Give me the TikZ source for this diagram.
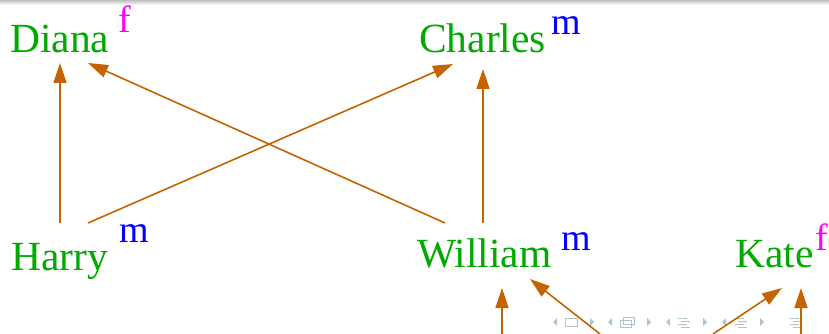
\documentclass[tikz,border=0pt]{standalone}
\usepackage{fontspec}
\setmainfont{Liberation Serif}
\usetikzlibrary{arrows.meta}
\definecolor{namegreen}{RGB}{0,170,0}
\definecolor{sexfc}{RGB}{255,0,255}
\definecolor{sexmc}{RGB}{0,0,255}
\definecolor{arr}{RGB}{196,100,0}
\definecolor{navc}{RGB}{176,196,204}
\begin{document}
\begin{tikzpicture}[x=1pt,y=-1pt,
  person/.style={anchor=base west,inner sep=0pt,text=namegreen,font=\fontsize{41.5}{41.5}\selectfont},
  sexf/.style={anchor=base west,inner sep=0pt,text=sexfc,font=\fontsize{38}{38}\selectfont},
  sexm/.style={anchor=base west,inner sep=0pt,text=sexmc,font=\fontsize{38}{38}\selectfont},
  link/.style={draw=arr,line width=1.6pt,-{Triangle[length=20pt,width=13pt]}},
  nav/.style={fill=navc,draw=none},
  navl/.style={draw=navc,line width=0.8pt}]
\useasboundingbox (0,0) rectangle (829,334);
\shade[top color=black!25,bottom color=white] (0,0) rectangle (829,5);
% names
\node[person] (diana) at (10,53) {Diana};
\node[sexf] (dianas) at (118,33) {f};
\node[person] (charles) at (419,53) {Charles};
\node[sexm] (charless) at (551,35) {m};
\node[person] (harry) at (11,270) {Harry};
\node[sexm] (harrys) at (119,242) {m};
\node[person] (william) at (417,267) {William};
\node[sexm] (williams) at (561,250) {m};
\node[person] (kate) at (735,267) {Kate};
\node[sexf] (kates) at (815,250) {f};
% arrow end points
\coordinate (hA) at (60,223);
\coordinate (hB) at (88,223);
\coordinate (dA) at (60,63);
\coordinate (dB) at (88,63);
\coordinate (cA) at (453,64);
\coordinate (cB) at (483,69);
\coordinate (wA) at (445,223);
\coordinate (wB) at (483,223);
\coordinate (wC) at (502,288);
\coordinate (wD) at (530,279);
\coordinate (kA) at (782,288);
\coordinate (kB) at (801,288);
\coordinate (b1) at (502,334);
\coordinate (b2) at (600,334);
\coordinate (b3) at (713,334);
\coordinate (b4) at (801,334);
% navigation symbols
\begin{scope}
\foreach \x in {553,608,666,722}{\fill[nav] (\x,322) -- (\x+4,318) -- (\x+4,326) -- cycle;}
\foreach \x in {590,647,703,760}{\fill[nav] (\x+4,322) -- (\x,318) -- (\x,326) -- cycle;}
\draw[navl] (565,318) rectangle (577,326);
\draw[navl] (620,320) rectangle (631,327);
\draw[navl] (623,317) rectangle (634,324);
\foreach \x in {678,735,790}{
  \draw[navl] (\x,318) -- (\x+9,318);
  \draw[navl] (\x+3,321) -- (\x+12,321);
  \draw[navl] (\x,324) -- (\x+9,324);
  \draw[navl] (\x+3,327) -- (\x+12,327);}
\end{scope}
% connectors
\draw[link] (hA) -- (dA);
\draw[link] (hB) -- (cA);
\draw[link] (wA) -- (dB);
\draw[link] (wB) -- (cB);
\draw[link] (b1) -- (wC);
\draw[link] (b2) -- (wD);
\draw[link] (b3) -- (kA);
\draw[link] (b4) -- (kB);
\end{tikzpicture}
\end{document}
